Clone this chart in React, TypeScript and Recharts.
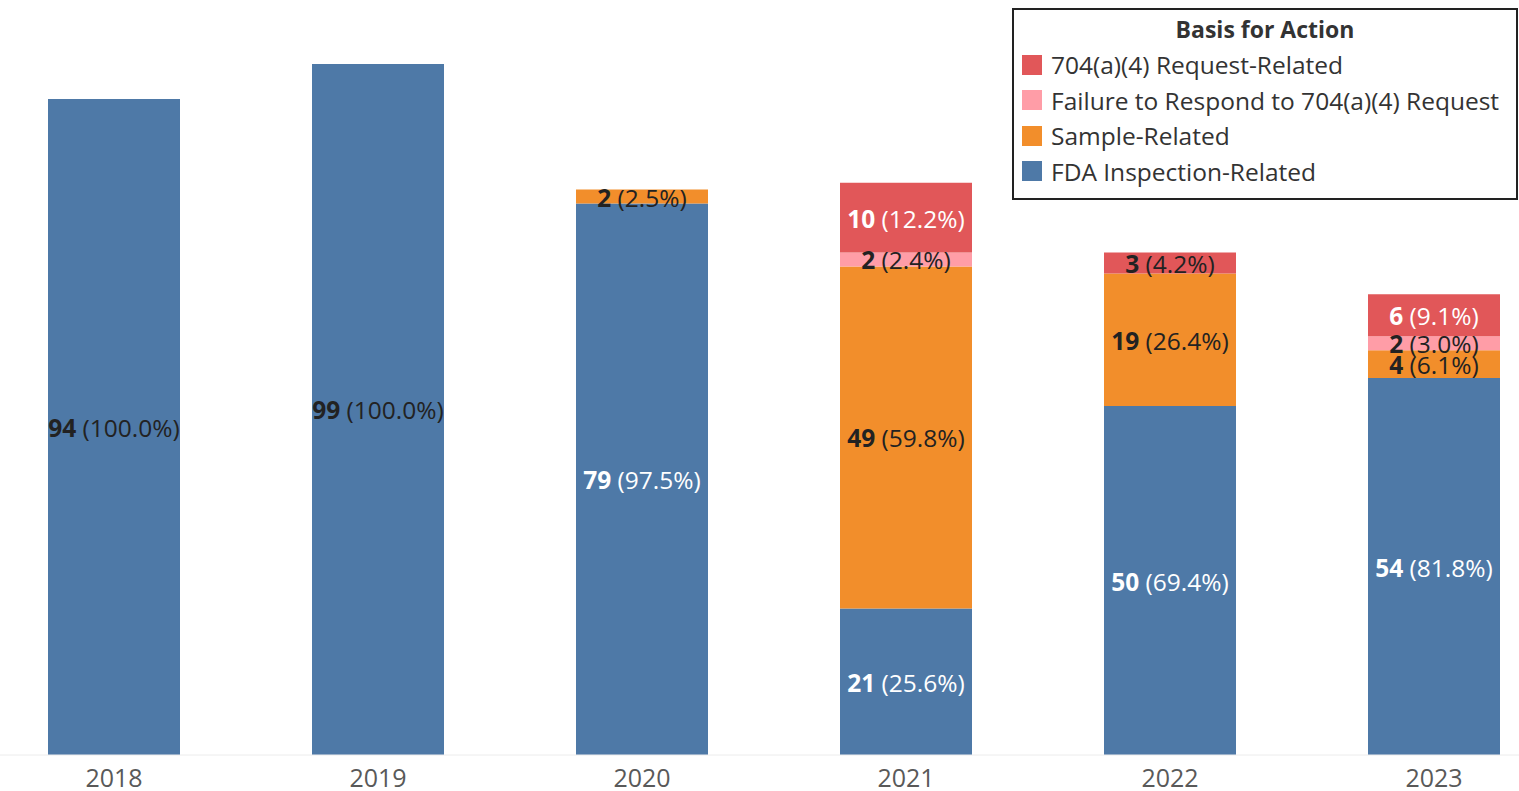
import { BarChart, Bar, XAxis, YAxis, LabelList } from 'recharts'

const years = ['2018', '2019', '2020', '2021', '2022', '2023']
const inspection = [94, 99, 79, 21, 50, 54]
const sample = [0, 0, 2, 49, 19, 4]
const failure = [0, 0, 0, 2, 0, 2]
const request = [0, 0, 0, 10, 3, 6]

const seriesNames = {
  request: '704(a)(4) Request-Related',
  failure: 'Failure to Respond to 704(a)(4) Request',
  sample: 'Sample-Related',
  inspection: 'FDA Inspection-Related',
}

const colors = {
  inspection: '#4e79a7',
  sample: '#f28e2b',
  failure: '#ff9da7',
  request: '#e15759',
}

// which segments get white text (Tableau picked these)
const whiteLabels: Record<string, string[]> = {
  inspection: ['2020', '2021', '2022', '2023'],
  request: ['2021', '2023'],
}

const FONT = '"Open Sans", sans-serif'

const data = years.map((y, i) => ({
  year: y,
  inspection: inspection[i],
  sample: sample[i],
  failure: failure[i],
  request: request[i],
  total: inspection[i] + sample[i] + failure[i] + request[i],
}))

function makeLabel(key: keyof typeof colors) {
  return (props: any) => {
    const { x, y, width, height, value } = props
    const row = data.find((d) => d.year === value)
    if (!row || !row[key]) return null
    const v = row[key]
    const pct = ((v / row.total) * 100).toFixed(1)
    const white = (whiteLabels[key] || []).includes(row.year)
    return (
      <text
        x={Number(x) + Number(width) / 2}
        y={Number(y) + Number(height) / 2}
        textAnchor="middle"
        dominantBaseline="central"
        fontSize={24.5}
        fontFamily={FONT}
        fill={white ? '#ffffff' : '#222222'}
      >
        <tspan fontWeight="bold">{v}</tspan>
        <tspan> ({pct}%)</tspan>
      </text>
    )
  }
}

function YearTick(props: any) {
  const { x, payload } = props
  // baseline just under the bars, same spot as the original
  return (
    <text x={x} y={787} textAnchor="middle" fontSize={25} fontFamily={FONT} fill="#595959">
      {payload.value}
    </text>
  )
}

const legendOrder: (keyof typeof colors)[] = ['request', 'failure', 'sample', 'inspection']

function LegendBox() {
  return (
    <div
      style={{
        position: 'absolute',
        left: 1012,
        top: 8,
        width: 506,
        height: 192,
        boxSizing: 'border-box',
        border: '2px solid #222',
        background: '#fff',
        fontFamily: FONT,
        color: '#333',
        fontSize: 24.5,
      }}
    >
      <div style={{ textAlign: 'center', fontWeight: 'bold', fontSize: 23, lineHeight: '36px', marginTop: 1 }}>
        Basis for Action
      </div>
      {legendOrder.map((k) => (
        <div key={k} style={{ display: 'flex', alignItems: 'center', height: 35.5, paddingLeft: 8 }}>
          <span style={{ width: 20, height: 20, background: colors[k], marginRight: 9, flexShrink: 0 }} />
          <span style={{ whiteSpace: 'nowrap' }}>{seriesNames[k]}</span>
        </div>
      ))}
    </div>
  )
}

export default function App() {
  return (
    <div style={{ position: 'fixed', left: 0, top: 0, width: 1519, height: 791, overflow: 'hidden', background: '#fff' }}>
      <div style={{ position: 'absolute', left: -18, top: 0 }}>
        <BarChart width={1584} height={791} data={data} margin={{ top: 57, right: 0, bottom: 0, left: 0 }}>
          <XAxis
            dataKey="year"
            tickLine={false}
            axisLine={{ stroke: '#ececec' }}
            tick={<YearTick />}
            height={36}
            interval={0}
          />
          <YAxis hide domain={[0, 100]} allowDataOverflow />
          {(['inspection', 'sample', 'failure', 'request'] as const).map((k) => (
            <Bar key={k} dataKey={k} stackId="a" fill={colors[k]} barSize={132} isAnimationActive={false}>
              <LabelList dataKey="year" content={makeLabel(k)} />
            </Bar>
          ))}
        </BarChart>
      </div>
      <LegendBox />
    </div>
  )
}
